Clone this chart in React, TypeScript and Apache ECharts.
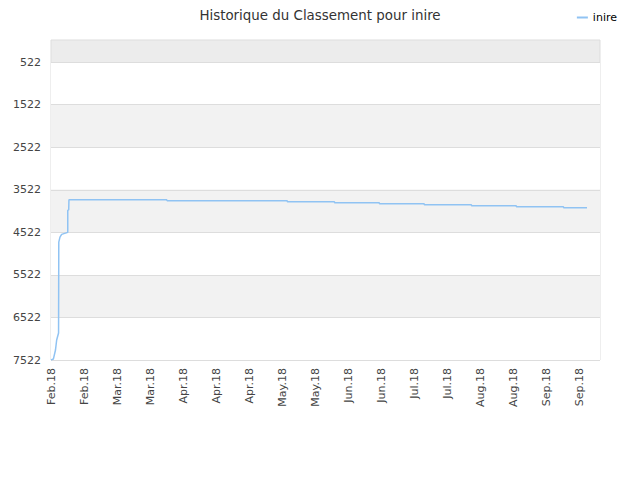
import React, { useEffect, useRef } from "react";
import * as echarts from "echarts";

// rank data (day index from first point, rank)
const days = [0, 1, 1.9, 2.4, 3.2, 3.3, 3.8, 4.5, 7.1, 7.1, 7.5, 7.6, 49, 49.2, 100, 100.2, 120, 120.2, 139, 139.2, 158, 158.2, 178, 178.2, 197, 197.2, 217, 217.2, 227];
const ranks = [
  7522, 7500, 7287, 7052, 6888, 4750, 4633, 4570, 4522, 4000, 3999, 3757, 3757, 3780, 3780,
  3805, 3805, 3828, 3828, 3852, 3852, 3875, 3875, 3899, 3899, 3922, 3922, 3946, 3946,
];

// one label every 14 days
const xLabels = [
  "Feb.18", "Feb.18", "Mar.18", "Mar.18", "Apr.18", "Apr.18", "Apr.18", "May.18", "May.18",
  "Jun.18", "Jun.18", "Jul.18", "Jul.18", "Aug.18", "Aug.18", "Sep.18", "Sep.18",
];
const LABEL_STEP = 14;

const yTicks = [522, 1522, 2522, 3522, 4522, 5522, 6522, 7522];
const bestRank = 1;
const worstRank = 7522;

const bandColors = ["#ffffff", "#f2f2f2"];

const FONT = "DejaVu Sans";

const App: React.FC = () => {
  const chartRef = useRef<HTMLDivElement | null>(null);

  useEffect(() => {
    if (!chartRef.current) return;
    const chart = echarts.init(chartRef.current, undefined, { renderer: "svg" });

    const option: echarts.EChartsOption = {
      animation: false,
      backgroundColor: "#ffffff",
      title: {
        text: "Historique du Classement pour inire",
        left: "center",
        top: 4,
        textStyle: { fontFamily: FONT, fontSize: 13.4, fontWeight: "normal", color: "#333" },
      },
      legend: {
        right: 18,
        top: 7,
        itemWidth: 11,
        itemHeight: 2,
        itemGap: 5,
        textStyle: { fontFamily: FONT, fontSize: 11, color: "#000" },
        data: [{ name: "inire", icon: "rect" }],
      },
      grid: {
        left: 51,
        right: 40,
        top: 40,
        bottom: 120,
        show: true,
        borderColor: "#dddddd",
        borderWidth: 1,
        backgroundColor: "#ececec",
      },
      xAxis: {
        type: "value",
        min: 0,
        max: 232.5,
        interval: LABEL_STEP,
        axisLine: { show: false },
        axisTick: { show: false },
        splitLine: { show: false },
        axisLabel: {
          rotate: 90,
          margin: 8,
          fontFamily: FONT,
          fontSize: 11,
          color: "#444",
          showMaxLabel: false,
          formatter: (v: number) =>
            v % LABEL_STEP === 0 ? xLabels[v / LABEL_STEP] ?? "" : "",
        },
      },
      yAxis: {
        type: "value",
        inverse: true,
        min: bestRank,
        max: worstRank,
        axisLine: { show: false },
        axisTick: { show: false, customValues: yTicks },
        splitLine: { lineStyle: { color: "#dddddd", width: 1 } },
        splitArea: { show: true, areaStyle: { color: bandColors } },
        axisLabel: {
          margin: 10,
          fontFamily: FONT,
          fontSize: 11,
          color: "#444",
          customValues: yTicks,
          formatter: (v: number) => String(v),
        },
      },
      series: [
        {
          name: "inire",
          type: "line",
          symbol: "none",
          data: days.map((d, i) => [d, ranks[i]]),
          lineStyle: { color: "#90c3f3", width: 1.5 },
          itemStyle: { color: "#90c3f3" },
        },
      ],
    };

    chart.setOption(option);
    return () => chart.dispose();
  }, []);

  return (
    <div
      ref={chartRef}
      style={{ position: "fixed", left: 0, top: 0, width: "640px", height: "480px" }}
    />
  );
};

export default App;
